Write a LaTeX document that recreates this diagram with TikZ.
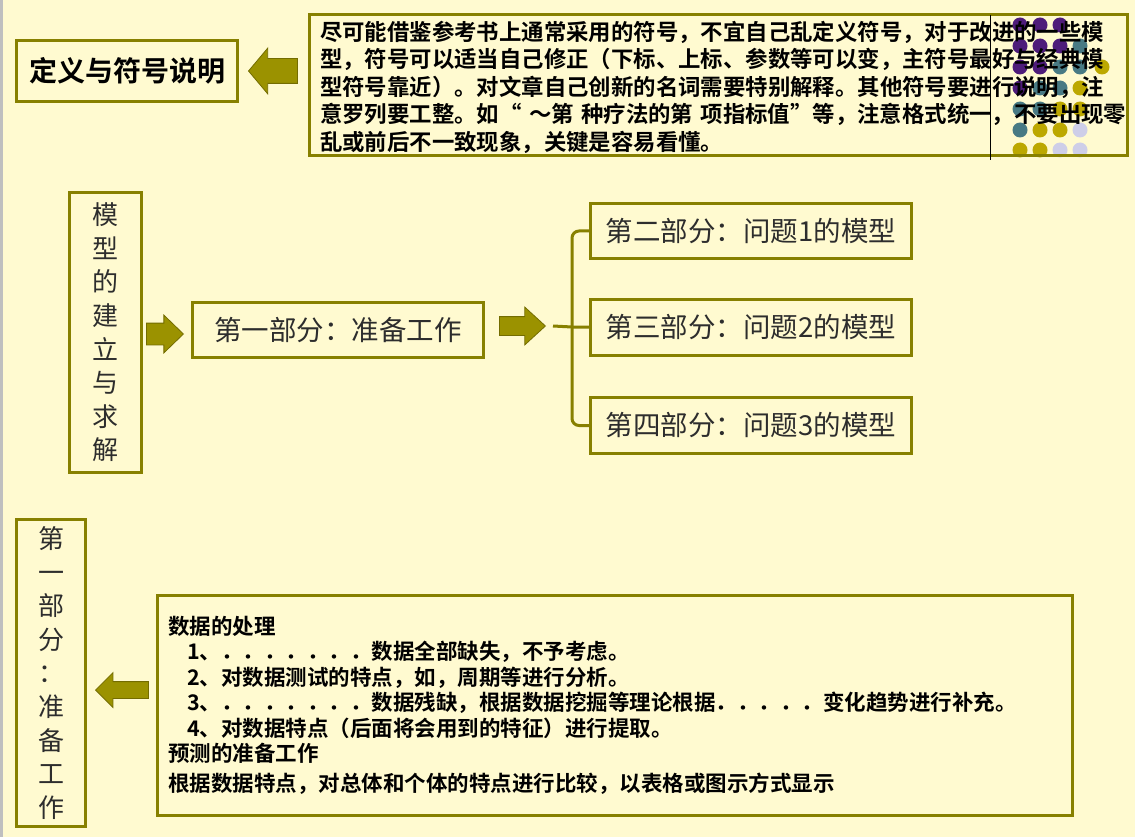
\documentclass[tikz,border=0pt]{standalone}
\usepackage{fontspec}
\newfontfamily\cjk{Noto Sans CJK SC}
\newfontfamily\cjkbold{Noto Sans CJK SC Bold}
\usetikzlibrary{shapes.arrows}
\definecolor{bg}{RGB}{255,250,208}
\definecolor{olivebox}{RGB}{135,128,0}
\definecolor{olivefill}{RGB}{155,146,0}
\definecolor{oliveline}{RGB}{115,108,0}
\definecolor{dotpurple}{RGB}{78,28,122}
\definecolor{dotteal}{RGB}{72,122,132}
\definecolor{dotyellow}{RGB}{188,168,0}
\definecolor{dotlilac}{RGB}{206,206,232}
\definecolor{txtgray}{RGB}{45,45,45}

\begin{document}
\begin{tikzpicture}[x=1pt, y=-1pt,
        kuang/.style={draw=olivebox, line width=3pt, inner sep=0pt},
        jiantou/.style={single arrow, fill=olivefill, draw=oliveline, line width=0.8pt,
                inner xsep=0pt, single arrow head indent=0pt, anchor=tip},
        lianxian/.style={draw=olivebox, line width=3pt},
        putong/.style={font=\cjk\fontsize{27.5}{33.6}\selectfont, text=txtgray},
        shuxie/.style={font=\cjk\fontsize{26}{33.6}\selectfont, text=txtgray, align=center}]
                \fill[bg] (0,0) rectangle (1135,837);
                \fill[black!25] (0,0) rectangle (2.5,837);
                \fill[dotpurple] (1020,25) circle (7.5);
                \fill[dotpurple] (1040,25) circle (7.5);
                \fill[dotpurple] (1060,25) circle (7.5);
                \fill[dotpurple] (1020,46) circle (7.5);
                \fill[dotpurple] (1040,46) circle (7.5);
                \fill[dotpurple] (1060,46) circle (7.5);
                \fill[dotteal] (1080,46) circle (7.5);
                \fill[dotpurple] (1020,67) circle (7.5);
                \fill[dotpurple] (1040,67) circle (7.5);
                \fill[dotteal] (1060,67) circle (7.5);
                \fill[dotteal] (1080,67) circle (7.5);
                \fill[dotyellow] (1102,67) circle (7.5);
                \fill[dotpurple] (1020,88) circle (7.5);
                \fill[dotteal] (1040,88) circle (7.5);
                \fill[dotteal] (1060,88) circle (7.5);
                \fill[dotyellow] (1080,88) circle (7.5);
                \fill[dotteal] (1020,109) circle (7.5);
                \fill[dotteal] (1040,109) circle (7.5);
                \fill[dotyellow] (1060,109) circle (7.5);
                \fill[dotyellow] (1080,109) circle (7.5);
                \fill[dotteal] (1020,130) circle (7.5);
                \fill[dotyellow] (1040,130) circle (7.5);
                \fill[dotyellow] (1060,130) circle (7.5);
                \fill[dotlilac] (1080,130) circle (7.5);
                \fill[dotyellow] (1020,150) circle (7.5);
                \fill[dotyellow] (1040,150) circle (7.5);
                \fill[dotlilac] (1060,150) circle (7.5);
                \fill[dotlilac] (1080,150) circle (7.5);

                \node[kuang, minimum width=221pt, minimum height=61pt,
                        font=\cjkbold\fontsize{28}{30}\selectfont] (dingyi) at (127,71) {定义与符号说明};
                \node[kuang, minimum width=818pt, minimum height=141pt, text width=797pt, align=left,
                        font=\cjkbold\fontsize{22.4}{27.5}\selectfont] (fuhao) at (718.5,85)
                        {\rule{0pt}{24pt}尽可能借鉴参考书上通常采用的符号，不宜自己乱定义符号，对于改进的一些模\\
                        型，符号可以适当自己修正（下标、上标、参数等可以变，主符号最好与经典模\\
                        型符号靠近）。对文章自己创新的名词需要特别解释。其他符号要进行说明，注\\
                        意罗列要工整。如“ ～第 种疗法的第 项指标值”等，注意格式统一，不要出现零\\
                        乱或前后不一致现象，关键是容易看懂。};
                \draw[black, line width=0.8pt] (990,15) -- (990,160);
                \node[jiantou, shape border rotate=180, minimum height=49pt, inner ysep=12pt,
                        single arrow head extend=10.5pt, single arrow tip angle=100] (a1) at (248,71) {};

                \node[kuang, minimum width=72pt, minimum height=280pt, shuxie] (jianmo) at (105.5,332.5)
                        {模\\型\\的\\建\\立\\与\\求\\解};
                \node[jiantou, minimum height=37pt, inner ysep=10.5pt,
                        single arrow head extend=8pt, single arrow tip angle=88] (a2) at (184,334) {};
                \node[kuang, minimum width=291pt, minimum height=55pt, putong] (zhunbei) at (338,330)
                        {第一部分：准备工作};
                \node[jiantou, minimum height=46pt, inner ysep=9pt,
                        single arrow head extend=9.5pt, single arrow tip angle=85] (a3) at (546,326) {};
                \node[kuang, minimum width=321pt, minimum height=55pt, putong] (wenti1) at (751,231)
                        {第二部分：问题1的模型};
                \node[kuang, minimum width=321pt, minimum height=56pt, putong] (wenti2) at (751,327.5)
                        {第三部分：问题2的模型};
                \node[kuang, minimum width=321pt, minimum height=56pt, putong] (wenti3) at (751,425.5)
                        {第四部分：问题3的模型};
                \coordinate (fenzhi) at (572,327);
                \draw[lianxian] ([xshift=7pt]a3.tip) -- (fenzhi) -- (fenzhi -| wenti2.west);
                \draw[lianxian, rounded corners=7pt] (wenti1.west) -| (fenzhi) |- (wenti3.west);

                \node[kuang, minimum width=69pt, minimum height=307pt, shuxie] (diyi) at (51,673)
                        {第\\一\\部\\分\\：\\准\\备\\工\\作};
                \node[jiantou, shape border rotate=180, minimum height=53pt, inner ysep=8pt,
                        single arrow head extend=9pt, single arrow tip angle=90] (a4) at (95,690) {};
                \node[kuang, minimum width=915pt, minimum height=220pt, text width=894pt, align=left,
                        font=\cjkbold\fontsize{21.5}{25.5}\selectfont] (shuju) at (615,705.5)
                        {数据的处理\\
                        \hspace*{19pt}1、．．．．．．．数据全部缺失，不予考虑。\\
                        \hspace*{19pt}2、对数据测试的特点，如，周期等进行分析。\\
                        \hspace*{19pt}3、．．．．．．．数据残缺，根据数据挖掘等理论根据．．．．．变化趋势进行补充。\\
                        \hspace*{19pt}4、对数据特点（后面将会用到的特征）进行提取。\\
                        预测的准备工作\\[4.5pt]
                        根据数据特点，对总体和个体的特点进行比较，以表格或图示方式显示};
            \end{tikzpicture}
\end{document}
